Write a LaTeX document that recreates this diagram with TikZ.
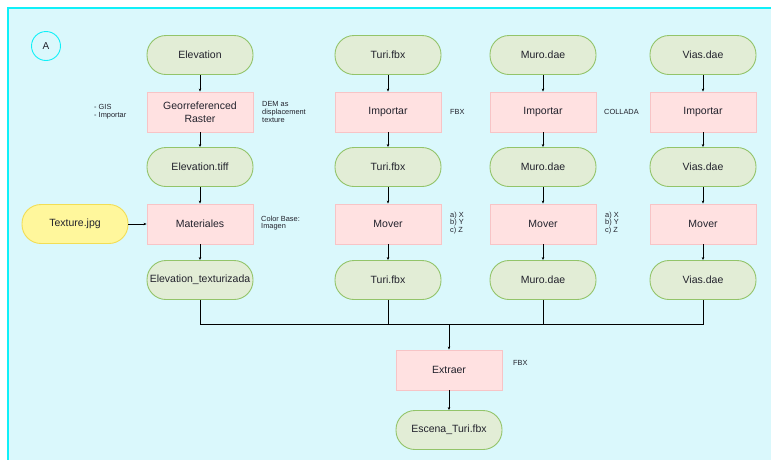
\documentclass[tikz,border=0pt]{standalone}
\usepackage{fontspec}
\setmainfont{Liberation Sans}
\usetikzlibrary{arrows.meta}
\definecolor{bgfill}{HTML}{DAF8FC}
\definecolor{bgline}{HTML}{10F0F8}
\definecolor{termfill}{HTML}{E2EDD6}
\definecolor{termline}{HTML}{93C46A}
\definecolor{procfill}{HTML}{FFE1E1}
\definecolor{procline}{HTML}{F7C4C6}
\definecolor{yelfill}{HTML}{FFF79C}
\definecolor{yelline}{HTML}{F2DE55}
\definecolor{txt}{HTML}{22222C}
\tikzset{
  term/.style={draw=termline, fill=termfill, line width=0.9pt, rounded corners=19pt,
    minimum width=106pt, minimum height=39pt, inner sep=0pt, font=\fontsize{10.5}{12}\selectfont, text=txt, align=center},
  proc/.style={draw=procline, fill=procfill, line width=0.9pt,
    minimum width=106pt, minimum height=40pt, inner sep=0pt, font=\fontsize{10.5}{13}\selectfont, text=txt, align=center},
  yel/.style={term, draw=yelline, fill=yelfill},
  note/.style={font=\fontsize{7.4}{7.8}\selectfont, text=txt, align=left, inner sep=0pt, anchor=west},
  conn/.style={draw=black, line width=0.7pt},
  arr/.style={conn, -{Stealth[length=3pt,width=2.5pt]}}
}
\begin{document}
\begin{tikzpicture}[x=1pt,y=-1pt]
\useasboundingbox (0,0) rectangle (771,459);
\fill[bgfill] (8,8) rectangle (775,463);
\draw[bgline, line width=1.1pt] (8,463) -- (8,8) -- (775,8);
\node[draw=bgline, line width=0.9pt, circle, minimum size=29pt, inner sep=0pt, font=\fontsize{10}{12}\selectfont, text=txt] (A) at (46,46) {A};

% column 1
\node[term] (e1) at (200,55) {Elevation};
\node[proc] (g1) at (200,112) {Georreferenced\\Raster};
\node[term] (e2) at (200,167) {Elevation.tiff};
\node[proc] (m1) at (200,224) {Materiales};
\node[term] (e3) at (200,280) {Elevation\_texturizada};
\node[yel] (tx) at (75,224) {Texture.jpg};

% column 2
\node[term] (t1) at (388,55) {Turi.fbx};
\node[proc] (i2) at (388,112) {Importar};
\node[term] (t2) at (388,167) {Turi.fbx};
\node[proc] (m2) at (388,224) {Mover};
\node[term] (t3) at (388,280) {Turi.fbx};

% column 3
\node[term] (u1) at (543,55) {Muro.dae};
\node[proc] (i3) at (543,112) {Importar};
\node[term] (u2) at (543,167) {Muro.dae};
\node[proc] (m3) at (543,224) {Mover};
\node[term] (u3) at (543,280) {Muro.dae};

% column 4
\node[term] (v1) at (703,55) {Vias.dae};
\node[proc] (i4) at (703,112) {Importar};
\node[term] (v2) at (703,167) {Vias.dae};
\node[proc] (m4) at (703,224) {Mover};
\node[term] (v3) at (703,280) {Vias.dae};

% bottom
\node[proc] (ex) at (449,370) {Extraer};
\node[term] (es) at (449,430) {Escena\_Turi.fbx};

% notes
\node[note] (n1) at (94,112) {- GIS\\- Importar};
\node[note] (n2) at (262,112) {DEM as\\displacement\\texture};
\node[note] (n3) at (261,223) {Color Base:\\Imagen};
\node[note] (n4) at (450,112) {FBX};
\node[note] (n5) at (604,112) {COLLADA};
\node[note] (n6) at (450,223) {a) X\\b) Y\\c) Z};
\node[note] (n7) at (605,223) {a) X\\b) Y\\c) Z};
\node[note] (n8) at (513,363) {FBX};

% arrows
\foreach \a/\b in {e1/g1,g1/e2,e2/m1,m1/e3,t1/i2,i2/t2,t2/m2,m2/t3,u1/i3,i3/u2,u2/m3,m3/u3,v1/i4,i4/v2,v2/m4,m4/v3,ex/es}
  \draw[arr] (\a) -- (\b);
\draw[arr] (tx) -- (m1);

% bus
\coordinate (b1) at (200,324);
\coordinate (b2) at (388,324);
\coordinate (b3) at (543,324);
\coordinate (b4) at (703,324);
\coordinate (bx) at (449,324);
\draw[conn] (e3.south) -- (b1) -- (b4) -- (v3.south);
\draw[conn] (t3.south) -- (b2);
\draw[conn] (u3.south) -- (b3);
\draw[arr] (bx) -- (ex.north);
\end{tikzpicture}
\end{document}
